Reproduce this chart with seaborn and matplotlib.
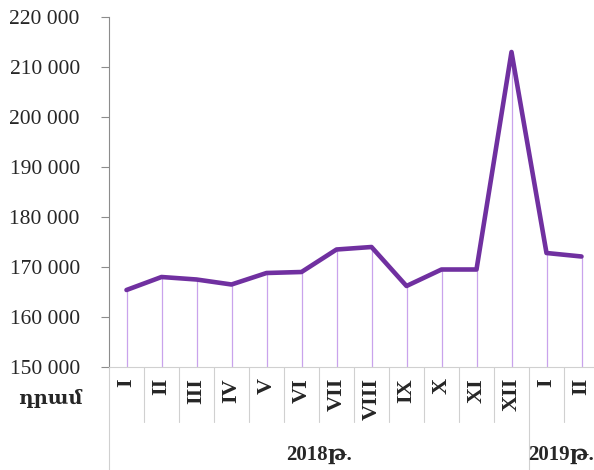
import pandas as pd
import seaborn as sns
import matplotlib.pyplot as plt

# Data
months = ["I", "II", "III", "IV", "V", "VI", "VII", "VIII", "IX", "X", "XI", "XII", "I", "II"]
salary = [165400, 168000, 167500, 166500, 168800, 169000, 173500, 174000,
          166200, 169500, 169500, 213000, 172800, 172100]
year_labels = ["2018թ.", "2019թ."]
year_counts = [12, 2]
y_ticks = [150000, 160000, 170000, 180000, 190000, 200000, 210000, 220000]
unit_label = "դրամ"

sns.set_theme(style="white")
plt.rcParams["font.family"] = ["Liberation Serif", "DejaVu Serif"]

df = pd.DataFrame({"pos": range(len(months)), "value": salary})

fig = plt.figure(figsize=(5.94, 4.70), dpi=100)
ax = fig.add_axes([109 / 594, 1 - 367 / 470, 490 / 594, 350 / 470])

# drop lines
ax.vlines(df["pos"], y_ticks[0], df["value"], color="#C9A3EC", linewidth=0.9, zorder=1)
sns.lineplot(x="pos", y="value", data=df, color="#7030A0", linewidth=3.3,
             ax=ax, zorder=3, solid_capstyle="round", solid_joinstyle="round")

ax.set_xlim(-0.5, len(months) - 0.5)
ax.set_ylim(y_ticks[0], y_ticks[-1])
ax.set_yticks(y_ticks)
ax.set_yticklabels([f"{v:,}".replace(",", " ") for v in y_ticks], fontsize=15.5)
ax.tick_params(axis="y", left=True, length=6, width=0.8, color="#8C8C8C", pad=15)
ax.set_xticks(df["pos"])
ax.set_xticklabels(months, rotation=90, fontsize=16, fontweight="bold")
ax.tick_params(axis="x", bottom=False, length=0, pad=8)
ax.set_xlabel("")
ax.set_ylabel("")

for side in ["top", "right"]:
    ax.spines[side].set_visible(False)
ax.spines["left"].set_color("#8C8C8C")
ax.spines["left"].set_linewidth(0.8)
ax.spines["bottom"].set_color("#D0D0D0")
ax.spines["bottom"].set_linewidth(0.8)

# category dividers below the axis
trans = ax.get_xaxis_transform()
year_edges = [-0.5]
for c in year_counts:
    year_edges.append(year_edges[-1] + c)
for k in range(len(months) + 1):
    xb = k - 0.5
    bottom = -0.30 if xb in year_edges[:-1] else -0.157
    ax.plot([xb, xb], [0, bottom], transform=trans, color="#D0D0D0",
            linewidth=0.8, clip_on=False)

# year labels
start = -0.5
for i, (lab, c) in enumerate(zip(year_labels, year_counts)):
    xc = start + c / 2
    if i == len(year_labels) - 1:
        xc -= 0.08
    ax.text(xc, -0.252, lab, transform=trans, ha="center", va="center",
            fontsize=15, fontweight="bold")
    start += c

fig.text(83 / 594, 1 - 398 / 470, unit_label, ha="right", va="center",
         fontsize=14, fontweight="bold")

plt.savefig("out.png", dpi=100)
plt.close()
